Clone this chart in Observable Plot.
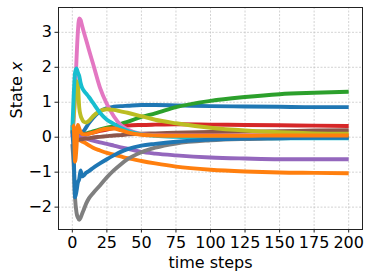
<!DOCTYPE html>
<html>
<head>
<meta charset="utf-8">
<script src="https://cdn.jsdelivr.net/npm/d3@7"></script>
<script src="https://cdn.jsdelivr.net/npm/@observablehq/plot@0.6"></script>
<style>
  html, body { margin: 0; padding: 0; background: #fff; }
  #chart { width: 374px; height: 280px; }
</style>
</head>
<body>
<div id="chart"></div>
<script>
// time steps at which the curves are sampled
const T = [0, 1, 2, 3, 4, 5, 6, 7, 8, 10, 12, 15, 20, 25, 30, 35, 40, 50, 60, 75, 100, 125, 150, 175, 200];

// series values (one per tab10 colour, cycle repeats for the last two)
const blue1   = [0.3, 0.2, 0.1, 0.0, -0.05, -0.02, 0.04, 0.1, 0.16, 0.28, 0.4, 0.55, 0.74, 0.83, 0.87, 0.89, 0.9, 0.92, 0.92, 0.91, 0.89, 0.88, 0.87, 0.86, 0.86];
const orange1 = [0.05, 0.03, 0.0, -0.03, -0.06, -0.08, -0.1, -0.12, -0.14, -0.18, -0.23, -0.3, -0.38, -0.45, -0.5, -0.55, -0.6, -0.68, -0.75, -0.84, -0.93, -0.98, -1.01, -1.02, -1.03];
const green   = [0.0, 0.0, 0.02, 0.03, 0.04, 0.05, 0.06, 0.07, 0.08, 0.1, 0.13, 0.17, 0.22, 0.27, 0.32, 0.38, 0.44, 0.58, 0.68, 0.86, 1.04, 1.15, 1.23, 1.27, 1.30];
const red     = [0.35, 0.2, 0.05, -0.1, -0.05, 0.0, 0.03, 0.05, 0.06, 0.08, 0.1, 0.13, 0.18, 0.22, 0.26, 0.3, 0.33, 0.35, 0.36, 0.37, 0.36, 0.35, 0.34, 0.33, 0.32];
const purple  = [0.2, 0.15, 0.1, 0.07, 0.05, 0.03, 0.02, 0.01, 0.0, -0.03, -0.06, -0.1, -0.15, -0.19, -0.24, -0.29, -0.33, -0.42, -0.47, -0.52, -0.58, -0.61, -0.63, -0.63, -0.63];
const brown   = [-0.1, -0.1, -0.09, -0.08, -0.07, -0.07, -0.06, -0.06, -0.05, -0.04, -0.03, -0.01, 0.01, 0.03, 0.05, 0.06, 0.08, 0.1, 0.11, 0.13, 0.15, 0.16, 0.17, 0.19, 0.2];
const pink    = [0.0, 0.5, 1.2, 2.2, 3.0, 3.4, 3.35, 3.2, 3.05, 2.78, 2.5, 2.1, 1.42, 0.95, 0.6, 0.35, 0.22, 0.09, 0.06, 0.05, 0.05, 0.05, 0.05, 0.05, 0.05];
const gray    = [-0.2, -0.8, -1.75, -2.15, -2.3, -2.36, -2.3, -2.2, -2.1, -1.9, -1.75, -1.6, -1.38, -1.15, -0.95, -0.78, -0.63, -0.43, -0.3, -0.18, -0.09, -0.05, -0.03, -0.01, 0.0];
const olive   = [0.1, 0.6, 1.2, 1.6, 1.5, 0.85, 0.62, 0.52, 0.45, 0.42, 0.47, 0.6, 0.75, 0.8, 0.78, 0.74, 0.7, 0.6, 0.5, 0.4, 0.27, 0.19, 0.14, 0.11, 0.1];
const cyan    = [0.2, 1.2, 1.85, 1.97, 1.85, 1.75, 1.55, 1.42, 1.35, 1.25, 1.15, 0.98, 0.7, 0.5, 0.38, 0.27, 0.18, 0.08, 0.04, 0.01, -0.01, -0.02, -0.03, -0.03, -0.03];
const blue2   = [0.2, -0.5, -1.72, -1.55, -1.3, -1.2, -0.95, -1.12, -1.1, -1.02, -0.97, -0.88, -0.75, -0.63, -0.52, -0.42, -0.34, -0.24, -0.19, -0.13, -0.07, -0.04, -0.03, -0.02, -0.02];
const orange2 = [0.35, 0.3, -0.7, -0.3, 0.35, 0.25, 0.15, 0.1, 0.08, 0.08, 0.1, 0.13, 0.2, 0.24, 0.25, 0.2, 0.14, 0.07, 0.05, 0.04, 0.04, 0.04, 0.05, 0.05, 0.05];

const seriesValues = [blue1, orange1, green, red, purple, brown, pink, gray, olive, cyan, blue2, orange2];
const seriesColors = ["#1f77b4", "#ff7f0e", "#2ca02c", "#d62728", "#9467bd", "#8c564b", "#e377c2", "#7f7f7f", "#bcbd22", "#17becf", "#1f77b4", "#ff7f0e"];

const xTicks = [0, 25, 50, 75, 100, 125, 150, 175, 200];
const yTicks = [-2, -1, 0, 1, 2, 3];
const xLabel = "time steps";
const yLabel = "State x";

const rows = [];
seriesValues.forEach((vals, i) => {
  vals.forEach((v, j) => rows.push({s: i, t: T[j], v, c: seriesColors[i]}));
});

const fmt = d => (d < 0 ? "\u2212" + Math.abs(d) : String(d));

const chart = Plot.plot({
  width: 374,
  height: 280,
  marginLeft: 58,
  marginRight: 12,
  marginTop: 7,
  marginBottom: 51,
  style: {fontFamily: "DejaVu Sans", fontSize: "16px", color: "#000", background: "#fff"},
  x: {domain: [-10, 210]},
  y: {domain: [-2.64, 3.71]},
  marks: [
    Plot.gridX(xTicks, {stroke: "#b0b0b0", strokeOpacity: 0.7, strokeDasharray: "2,1.5", strokeWidth: 0.8}),
    Plot.gridY(yTicks, {stroke: "#b0b0b0", strokeOpacity: 0.7, strokeDasharray: "2,1.5", strokeWidth: 0.8}),
    Plot.line(rows, {x: "t", y: "v", z: "s", stroke: "c", strokeWidth: 3.9, curve: "monotone-x", strokeLinejoin: "round", strokeLinecap: "butt"}),
    Plot.frame({stroke: "#222", strokeWidth: 1}),
    Plot.axisX(xTicks, {tickSize: 3.5, tickPadding: 4, tickFormat: fmt, label: null, fontSize: 16, stroke: "#222"}),
    Plot.axisY(yTicks, {tickSize: 3.5, tickPadding: 3, tickFormat: fmt, label: null, fontSize: 16, stroke: "#222"}),
    Plot.text([xLabel], {frameAnchor: "bottom", dy: 33, fontSize: 16, lineAnchor: "middle", fill: "#000"}),
    Plot.text([yLabel], {frameAnchor: "left", dx: -42, rotate: -90, fontSize: 16, lineAnchor: "middle", fill: "#000"})
  ]
});

document.getElementById("chart").appendChild(chart);

// italicise the variable name in the y label
chart.querySelectorAll("text").forEach(t => {
  if (t.textContent === yLabel) {
    t.textContent = "State ";
    const ts = document.createElementNS("http://www.w3.org/2000/svg", "tspan");
    ts.setAttribute("font-style", "italic");
    ts.textContent = "x";
    t.appendChild(ts);
  }
});
</script>
</body>
</html>
